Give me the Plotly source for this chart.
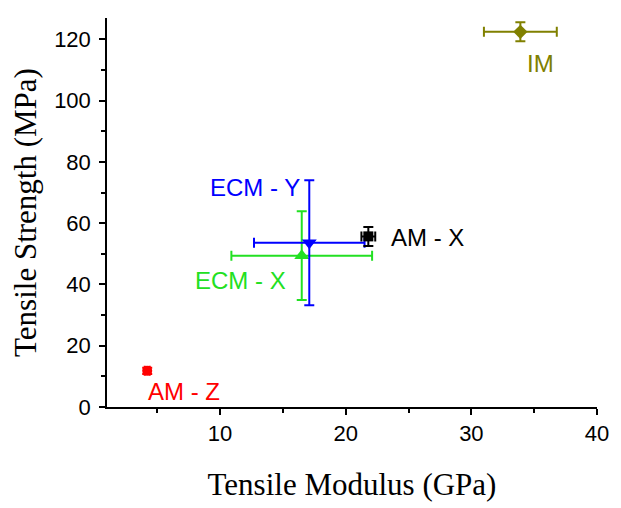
import plotly.graph_objects as go

# Material samples: tensile modulus (GPa) vs tensile strength (MPa), mean ± std
names = ["AM - Z", "ECM - X", "ECM - Y", "AM - X", "IM"]
modulus = [4.2, 16.5, 17.1, 21.8, 33.9]
modulus_err = [0.2, 5.6, 4.4, 0.55, 2.9]
strength = [11.8, 49.4, 53.6, 55.7, 122.5]
strength_err = [1.0, 14.5, 20.4, 3.1, 3.1]

colors = ["#FF0000", "#22E022", "#0000FF", "#000000", "#808000"]
symbols = ["circle", "triangle-up", "triangle-down", "square", "diamond"]
marker_sizes = [10, 13, 13, 10, 11]

# Label anchor points (data coords) for the sample names
label_x = [7.1, 11.6, 12.8, 26.5, 35.5]
label_y = [5.2, 41.2, 71.6, 55.2, 112.0]

fig = go.Figure()
for i, name in enumerate(names):
    fig.add_trace(go.Scatter(
        x=[modulus[i]], y=[strength[i]],
        mode="markers",
        name=name,
        marker=dict(color=colors[i], symbol=symbols[i], size=marker_sizes[i],
                    line=dict(width=0)),
        error_x=dict(type="data", array=[modulus_err[i]], color=colors[i],
                     thickness=2, width=5),
        error_y=dict(type="data", array=[strength_err[i]], color=colors[i],
                     thickness=2, width=5),
        showlegend=False,
    ))
    fig.add_annotation(
        x=label_x[i], y=label_y[i], text=name, showarrow=False,
        font=dict(family="Liberation Sans, Arial", size=24, color=colors[i]),
        xanchor="center", yanchor="middle",
    )

axis_common = dict(
    showline=True, linecolor="black", linewidth=1.5,
    ticks="outside", ticklen=6, tickwidth=1.5, tickcolor="black",
    showgrid=False, zeroline=False, mirror=False,
    tickfont=dict(family="Liberation Sans, Arial", size=22, color="black"),
)

fig.update_xaxes(
    range=[1, 40], tickmode="array", tickvals=[10, 20, 30, 40],
    minor=dict(ticks="outside", ticklen=4, tickwidth=1.5, tickcolor="black",
               tickvals=[5, 15, 25, 35]),
    title=dict(text="Tensile Modulus (GPa)", standoff=28,
               font=dict(family="Liberation Serif, Times New Roman", size=31,
                         color="black")),
    **axis_common,
)
fig.update_yaxes(
    range=[0, 127], tickmode="array", tickvals=[0, 20, 40, 60, 80, 100, 120],
    minor=dict(ticks="outside", ticklen=4, tickwidth=1.5, tickcolor="black",
               tickvals=[10, 30, 50, 70, 90, 110]),
    ticklabelstandoff=4,
    title=dict(text="Tensile Strength (MPa)", standoff=8,
               font=dict(family="Liberation Serif, Times New Roman", size=31,
                         color="black")),
    **axis_common,
)

fig.update_layout(
    width=621, height=508,
    margin=dict(l=107, r=24, t=18, b=101, autoexpand=False),
    plot_bgcolor="white", paper_bgcolor="white",
)

fig.write_html("out.html")
